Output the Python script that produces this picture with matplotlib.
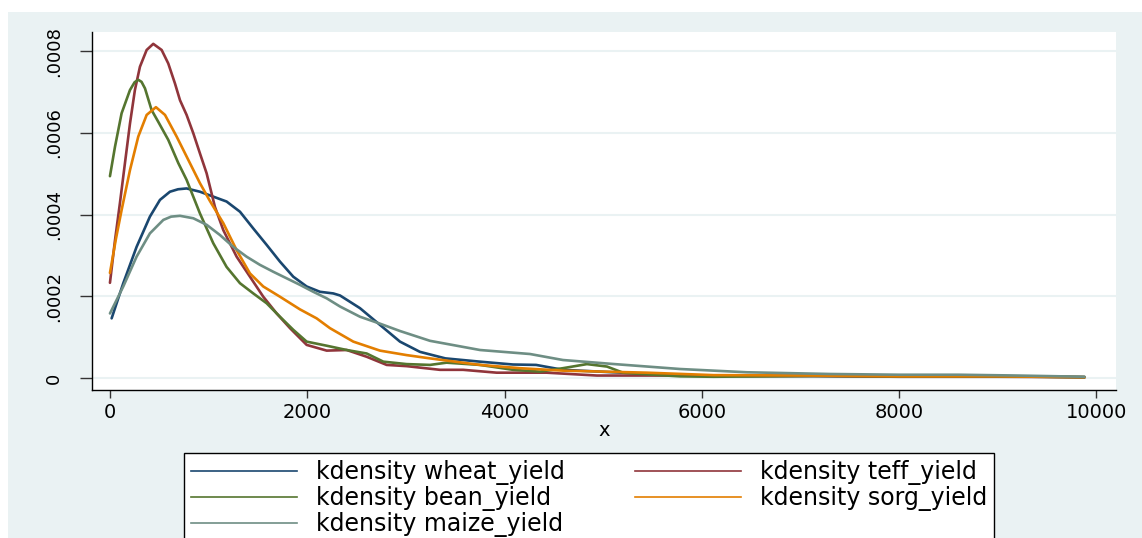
import matplotlib
matplotlib.use("Agg")
import matplotlib.pyplot as plt
from matplotlib.lines import Line2D
from matplotlib.patches import Rectangle

# kdensity estimates (y in units of 1e-4)
wheat_x = [17, 135, 270, 405, 507, 608, 690, 777, 912, 1047, 1182, 1318, 1453, 1588, 1723,
           1858, 1994, 2129, 2264, 2332, 2534, 2737, 2940, 3142, 3400, 3750, 4085, 4320, 4592,
           5099, 5778, 6457, 7200, 8000, 8600, 9200, 9880]
wheat_y = [1.46, 2.32, 3.21, 3.95, 4.36, 4.56, 4.62, 4.64, 4.56, 4.44, 4.32, 4.07, 3.66, 3.26,
           2.85, 2.48, 2.24, 2.11, 2.07, 2.02, 1.71, 1.30, 0.89, 0.64, 0.48, 0.40, 0.33, 0.32,
           0.20, 0.14, 0.07, 0.05, 0.05, 0.04, 0.06, 0.04, 0.02]

teff_x = [0, 50, 101, 152, 203, 253, 304, 372, 439, 524, 591, 659, 710, 777, 845, 912, 980,
          1064, 1149, 1284, 1419, 1554, 1690, 1825, 1994, 2197, 2400, 2602, 2805, 3008, 3345,
          3580, 3920, 4427, 4936, 5268, 5778, 6500, 7126, 8000, 9000, 9880]
teff_y = [2.33, 3.35, 4.28, 5.26, 6.23, 7.05, 7.62, 8.03, 8.18, 8.03, 7.70, 7.21, 6.80, 6.44,
          5.99, 5.50, 5.01, 4.19, 3.62, 2.97, 2.48, 1.99, 1.58, 1.22, 0.81, 0.67, 0.685, 0.52,
          0.32, 0.29, 0.20, 0.20, 0.13, 0.13, 0.06, 0.06, 0.06, 0.05, 0.05, 0.03, 0.03, 0.02]

bean_x = [0, 51, 118, 203, 250, 287, 320, 355, 422, 490, 591, 693, 777, 912, 1047, 1182, 1318,
          1453, 1588, 1723, 1858, 1994, 2197, 2400, 2602, 2771, 3008, 3244, 3412, 3751, 4085,
          4359, 4592, 4835, 5038, 5200, 5500, 5778, 6120, 7126, 8000, 9000, 9880]
bean_y = [4.94, 5.66, 6.48, 7.05, 7.24, 7.30, 7.25, 7.09, 6.56, 6.27, 5.83, 5.26, 4.85, 4.03,
          3.30, 2.72, 2.32, 2.07, 1.83, 1.50, 1.18, 0.89, 0.79, 0.685, 0.60, 0.40, 0.34, 0.32,
          0.375, 0.32, 0.20, 0.155, 0.24, 0.34, 0.28, 0.13, 0.08, 0.04, 0.03, 0.05, 0.04, 0.04,
          0.02]

sorg_x = [0, 60, 118, 203, 287, 372, 466, 558, 676, 794, 912, 1014, 1149, 1284, 1419, 1554,
          1723, 1926, 2095, 2230, 2467, 2737, 3008, 3244, 3751, 4156, 4592, 5443, 6120, 7126,
          8000, 9000, 9880]
sorg_y = [2.57, 3.4, 4.11, 5.09, 5.91, 6.44, 6.63, 6.44, 5.91, 5.34, 4.77, 4.33, 3.79, 3.13,
          2.56, 2.24, 1.99, 1.68, 1.46, 1.22, 0.89, 0.67, 0.56, 0.48, 0.32, 0.24, 0.18, 0.13,
          0.07, 0.06, 0.04, 0.04, 0.02]

maize_x = [0, 135, 270, 405, 541, 620, 710, 845, 980, 1115, 1250, 1385, 1520, 1656, 1791, 1926,
           2061, 2197, 2332, 2534, 2737, 2940, 3244, 3751, 4258, 4592, 5099, 5778, 6457, 7298,
           8000, 8600, 9200, 9880]
maize_y = [1.58, 2.24, 2.97, 3.54, 3.87, 3.95, 3.97, 3.91, 3.75, 3.50, 3.21, 2.97, 2.77, 2.60,
           2.44, 2.28, 2.11, 1.95, 1.75, 1.50, 1.33, 1.15, 0.91, 0.685, 0.587, 0.44, 0.343, 0.22,
           0.14, 0.098, 0.08, 0.08, 0.06, 0.03]

labels = ["kdensity wheat_yield", "kdensity teff_yield", "kdensity bean_yield",
          "kdensity sorg_yield", "kdensity maize_yield"]
colors = ["#1a476f", "#90353b", "#55752f", "#e37e00", "#6e8e84"]

xticks = [0, 2000, 4000, 6000, 8000, 10000]
yticks = [0, 0.0002, 0.0004, 0.0006, 0.0008]
yticklabels = ["0", ".0002", ".0004", ".0006", ".0008"]

W, H = 1142, 538
fig = plt.figure(figsize=(W / 100, H / 100), dpi=100)
fig.patch.set_facecolor("white")
bg = Rectangle((8 / W, 0), 1, (H - 12) / H, transform=fig.transFigure,
               facecolor="#eaf2f3", edgecolor="none", zorder=-5)
fig.add_artist(bg)

ax = fig.add_axes([92 / W, 1 - 390 / H, (1116 - 92) / W, (390 - 32) / H])
ax.set_facecolor("white")

series = [(wheat_x, wheat_y), (teff_x, teff_y), (bean_x, bean_y),
          (sorg_x, sorg_y), (maize_x, maize_y)]
for (xs, ys), c in zip(series, colors):
    ax.plot(xs, [v * 1e-4 for v in ys], color=c, lw=1.9,
            solid_joinstyle="round", solid_capstyle="round")

ax.set_xlim(-182, 10198)
ax.set_ylim(-0.0000294, 0.000847)

for s in ["top", "right"]:
    ax.spines[s].set_visible(False)
for s in ["left", "bottom"]:
    ax.spines[s].set_color("black")
    ax.spines[s].set_linewidth(1.0)

ax.set_xticks(xticks)
ax.set_xticklabels([str(t) for t in xticks], fontsize=14)
ax.set_yticks(yticks)
ax.set_yticklabels(yticklabels, fontsize=13, rotation=90, va="center")
ax.tick_params(axis="x", length=6, width=1, color="#333333", pad=3)
ax.tick_params(axis="y", length=9, width=1, color="#333333", pad=12)
ax.grid(axis="y", color="#eaf2f3", lw=1.5)
ax.set_axisbelow(True)
ax.set_xlabel("x", fontsize=14, labelpad=0)

handles = [Line2D([], [], color=c, lw=1.2) for c in colors]
order = [0, 2, 4, 1, 3]
leg = fig.legend([handles[i] for i in order], [labels[i] for i in order],
                 loc="upper left", bbox_to_anchor=(184 / W, 1 - 453 / H),
                 ncol=2, fontsize=17, frameon=True, fancybox=False,
                 edgecolor="black", framealpha=1, handlelength=4.5, handletextpad=0.8,
                 labelspacing=0.04, borderpad=0.3, borderaxespad=0, columnspacing=2.95)
leg.get_frame().set_linewidth(1.0)

fig.savefig("out.png", dpi=100)
